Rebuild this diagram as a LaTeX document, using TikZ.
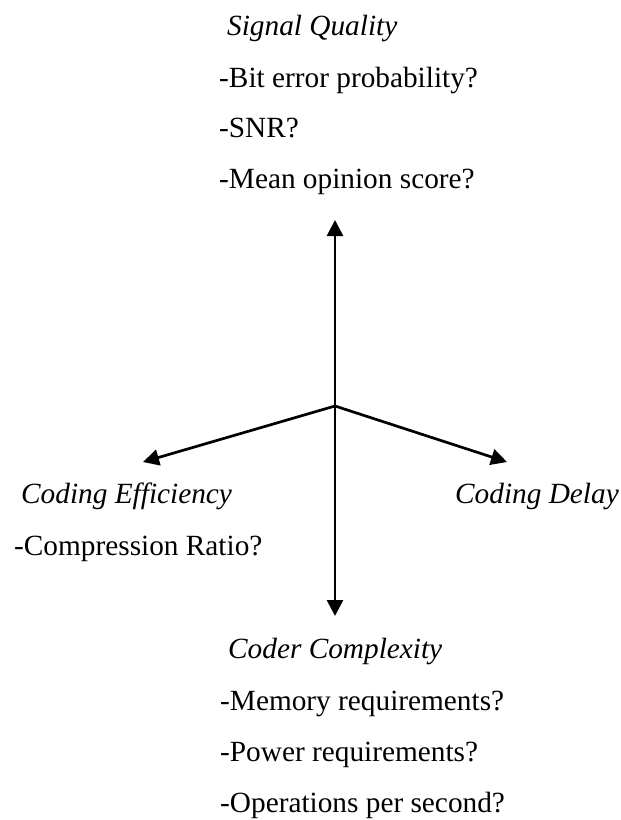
\documentclass[tikz,border=0pt]{standalone}
\usepackage{fontspec}
\setmainfont{Liberation Serif}
\usetikzlibrary{arrows.meta}
\tikzset{
  lbl/.style={inner sep=0pt, anchor=base west, font=\fontsize{29.3}{35}\selectfont},
  ttl/.style={lbl, font=\fontsize{29.3}{35}\selectfont\itshape},
  axis/.style={line width=2.7pt, -{Triangle[length=16pt,width=16pt]}}
}
\begin{document}
\begin{tikzpicture}[x=1pt,y=-1pt]
\useasboundingbox (0,0) rectangle (621,820);
\coordinate (c) at (335,406);
\coordinate (up) at (335,220);
\coordinate (down) at (335,616);
\coordinate (left) at (143,462);
\coordinate (right) at (507,462);
\draw[axis] (c) -- (up);
\draw[axis] (c) -- (down);
\draw[axis] (c) -- (left);
\draw[axis] (c) -- (right);
% top
\node[ttl] (sq) at (227,35) {Signal Quality};
\node[lbl] (sq1) at (219,87) {-Bit error probability?};
\node[lbl] (sq2) at (219,137) {-SNR?};
\node[lbl] (sq3) at (219,188) {-Mean opinion score?};
% left
\node[ttl] (ce) at (21,503) {Coding Efficiency};
\node[lbl] (ce1) at (14,555) {-Compression Ratio?};
% right
\node[ttl] (cd) at (455,503) {Coding Delay};
% bottom
\node[ttl] (cc) at (228,658) {Coder Complexity};
\node[lbl] (cc1) at (220,710) {-Memory requirements?};
\node[lbl] (cc2) at (220,761) {-Power requirements?};
\node[lbl] (cc3) at (220,812) {-Operations per second?};
\end{tikzpicture}
\end{document}
